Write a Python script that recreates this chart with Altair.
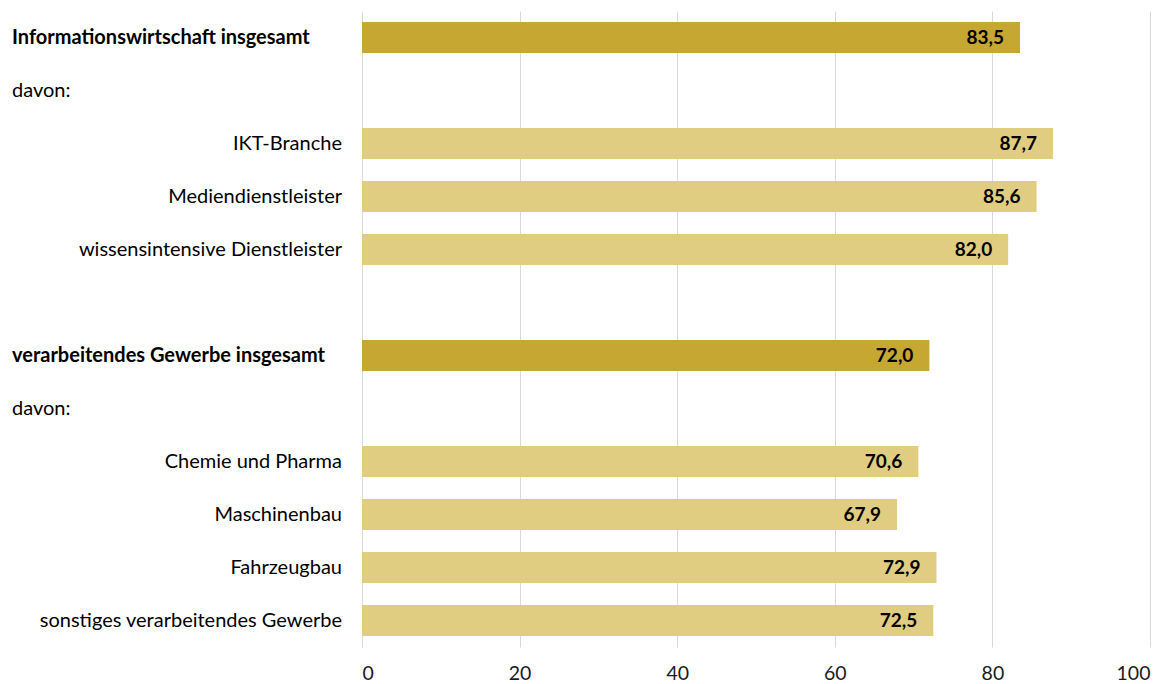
import altair as alt
import pandas as pd

labels = [
    "Informationswirtschaft insgesamt",
    "davon:",
    "IKT-Branche",
    "Mediendienstleister",
    "wissensintensive Dienstleister",
    "",
    "verarbeitendes Gewerbe insgesamt",
    "davon:",
    "Chemie und Pharma",
    "Maschinenbau",
    "Fahrzeugbau",
    "sonstiges verarbeitendes Gewerbe",
]
values = [83.5, None, 87.7, 85.6, 82.0, None, 72.0, None, 70.6, 67.9, 72.9, 72.5]
kinds = ["total", "note", "sub", "sub", "sub", "blank", "total", "note", "sub", "sub", "sub", "sub"]

keys = [f"r{i:02d}" for i in range(len(labels))]
df = pd.DataFrame({"key": keys, "label": labels, "value": values, "kind": kinds})
df["txt"] = df["value"].map(lambda v: "" if pd.isna(v) else f"{v:.1f}".replace(".", ","))

FONT = "Lato"
FS = 20
yenc = alt.Y("key:N", scale=alt.Scale(domain=keys, paddingInner=0.415, paddingOuter=0.2075), axis=None)

base = alt.Chart(df)

bars = base.transform_filter("isValid(datum.value)").mark_bar().encode(
    y=yenc,
    x=alt.X("value:Q", scale=alt.Scale(domain=[0, 100], nice=False),
            axis=alt.Axis(values=[0, 20, 40, 60, 80, 100], grid=True, gridColor="#d9d9d9",
                          domain=False, ticks=False, labelFont=FONT, labelFontSize=19.5,
                          labelColor="#1a1a1a", labelPadding=17, title=None)),
    color=alt.Color("kind:N", scale=alt.Scale(domain=["total", "sub"], range=["#C6A731", "#E0CD82"]), legend=None),
)

vals = base.transform_filter("isValid(datum.value)").mark_text(
    align="right", baseline="middle", dx=-16, font=FONT, fontSize=19, fontWeight="bold", color="#000000"
).encode(y=yenc, x="value:Q", text="txt:N")

bold_lab = base.transform_filter("datum.kind == 'total'").mark_text(
    align="left", baseline="middle", font=FONT, fontSize=FS, fontWeight="bold", color="#000000"
).encode(y=yenc, x=alt.value(-350), text="label:N")

note_lab = base.transform_filter("datum.kind == 'note'").mark_text(
    align="left", baseline="middle", font=FONT, fontSize=FS, color="#000000"
).encode(y=yenc, x=alt.value(-350), text="label:N")

right_lab = base.transform_filter("datum.kind == 'sub'").mark_text(
    align="right", baseline="middle", font=FONT, fontSize=FS, color="#000000"
).encode(y=yenc, x=alt.value(-20), text="label:N")

chart = alt.layer(bars, vals, bold_lab, note_lab, right_lab).properties(
    width=788, height=636,
    autosize=alt.AutoSizeParams(type="none"),
    padding={"left": 354, "top": 3, "right": 10, "bottom": 40},
).configure_view(stroke=None).configure_axis(gridWidth=1)

chart.save("out.html", embed_options={"renderer": "svg", "actions": False})
